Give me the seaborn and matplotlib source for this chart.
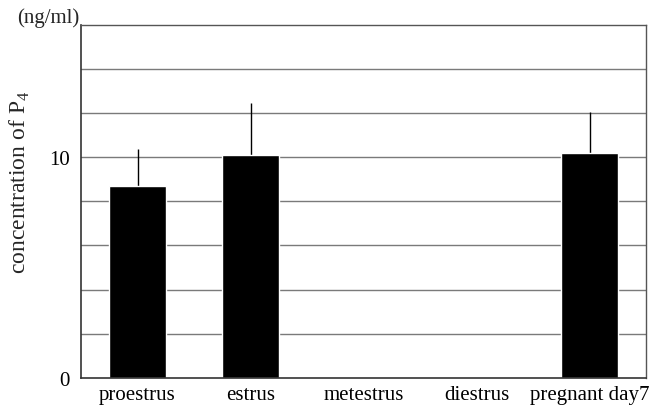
import numpy as np
import pandas as pd
import matplotlib
matplotlib.use("Agg")
import matplotlib.pyplot as plt
import seaborn as sns

stages = ["proestrus", "estrus", "metestrus", "diestrus", "pregnant day7"]
p4_mean = [8.68, 10.09, np.nan, np.nan, 10.19]
p4_sd = [1.70, 2.36, np.nan, np.nan, 1.83]
y_ticks = [0, 10]

sns.set_theme(style="white")
plt.rcParams["font.family"] = ["Liberation Serif", "DejaVu Serif"]
plt.rcParams["mathtext.fontset"] = "custom"
plt.rcParams["mathtext.rm"] = "Liberation Serif"

df = pd.DataFrame({"stage": stages, "p4": p4_mean, "sd": p4_sd})

fig = plt.figure(figsize=(6.57, 4.10), dpi=100)
ax = fig.add_axes([81 / 657, 1 - 379 / 410, 565 / 657, 353.5 / 410])

# horizontal rules every 2 ng/ml
for yv in np.arange(2, 16, 2):
    ax.axhline(yv, color="#7a7a7a", lw=1.0, zorder=0)

sns.barplot(data=df, x="stage", y="p4", order=stages, color="black",
            width=0.5, errorbar=None, saturation=1, ax=ax, zorder=2)

# upward-only SD whiskers
xs = np.arange(len(stages))
ok = ~np.isnan(df["p4"].to_numpy())
ax.errorbar(xs[ok], df["p4"][ok], yerr=[np.zeros(ok.sum()), df["sd"][ok]],
            fmt="none", ecolor="black", elinewidth=1.0, capsize=0, zorder=1)

ax.set_xlim(-0.5, 4.5)
ax.set_ylim(0, 16)
ax.set_yticks(y_ticks)
ax.set_yticklabels([str(v) for v in y_ticks])
ax.tick_params(axis="both", length=0, labelsize=15, colors="black")
ax.tick_params(axis="y", pad=8)
ax.tick_params(axis="x", pad=5)
ax.set_xlabel("")
ax.set_ylabel("concentration of P$_{4}$", fontsize=17)
ax.yaxis.set_label_coords(-0.087, 0.557)

for side in ["left", "bottom"]:
    ax.spines[side].set_color("#333333")
    ax.spines[side].set_linewidth(1.2)
for side in ["top", "right"]:
    ax.spines[side].set_color("#555555")
    ax.spines[side].set_linewidth(1.0)

fig.text(17 / 657, 1 - 18 / 410, "(ng/ml)", fontsize=15, va="center", ha="left")

fig.savefig("out.png", dpi=100)
